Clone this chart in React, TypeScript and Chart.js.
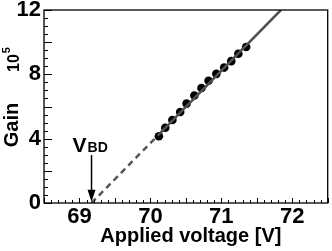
import React, { useEffect, useRef } from "react";
import { Chart, registerables } from "chart.js";

Chart.register(...registerables);

// ---- data ----
const voltage = [70.12, 70.21, 70.31, 70.42, 70.51, 70.62, 70.72, 70.82, 70.93, 71.04, 71.14, 71.24, 71.35];
const gain = [4.15, 4.68, 5.16, 5.66, 6.18, 6.68, 7.15, 7.6, 8.03, 8.42, 8.82, 9.28, 9.7];
const breakdownVoltage = 69.17;
const fitDashedX = [69.17, 70.12];
const fitDashedY = [0, 4.27];
const fitSolidX = [70.12, 71.84];
const fitSolidY = [4.27, 12.0];
const xTickValues = [69, 70, 71, 72];
const yTickValues = [0, 4, 8, 12];
const xMinorStep = 0.1;
const yMinorStep = 0.5;

const FONT = "'Liberation Sans', Arial, Helvetica, sans-serif";

const decorPlugin = {
  id: "decor",
  afterDatasetsDraw(chart: any) {
    const { ctx, chartArea } = chart;
    const xs = chart.scales.x;
    const ys = chart.scales.y;
    const { left, right, top, bottom } = chartArea;
    ctx.save();
    // frame
    ctx.strokeStyle = "#000";
    ctx.lineWidth = 1.3;
    ctx.strokeRect(left, top, right - left, bottom - top);

    // inward ticks x
    ctx.lineWidth = 1;
    const nx = Math.round((xs.max - xs.min) / xMinorStep);
    for (let i = 0; i <= nx; i++) {
      const v = xs.min + i * xMinorStep;
      const px = Math.round(xs.getPixelForValue(v)) + 0.5;
      const isMajor = Math.abs(v * 2 - Math.round(v * 2)) < 1e-6;
      const len = isMajor ? 5 : 3;
      ctx.beginPath();
      ctx.moveTo(px, bottom);
      ctx.lineTo(px, bottom - len);
      ctx.stroke();
    }
    // inward ticks y
    const ny = Math.round((ys.max - ys.min) / yMinorStep);
    for (let i = 0; i <= ny; i++) {
      const v = ys.min + i * yMinorStep;
      const py = Math.round(ys.getPixelForValue(v)) + 0.5;
      const isMajor = Math.abs(v / 2 - Math.round(v / 2)) < 1e-6;
      const len = isMajor ? 8 : 4;
      ctx.beginPath();
      ctx.moveTo(left, py);
      ctx.lineTo(left + len, py);
      ctx.stroke();
    }

    // arrow at breakdown voltage
    const ax = xs.getPixelForValue(breakdownVoltage);
    const aTop = ys.getPixelForValue(2.98);
    const aTip = ys.getPixelForValue(0.08);
    ctx.lineWidth = 1.5;
    ctx.beginPath();
    ctx.moveTo(ax, aTop);
    ctx.lineTo(ax, aTip - 8);
    ctx.stroke();
    ctx.fillStyle = "#000";
    ctx.beginPath();
    ctx.moveTo(ax, aTip);
    ctx.lineTo(ax - 4, aTip - 12);
    ctx.lineTo(ax + 4, aTip - 12);
    ctx.closePath();
    ctx.fill();

    // V_BD label
    ctx.textAlign = "left";
    ctx.textBaseline = "alphabetic";
    ctx.font = `bold 21px ${FONT}`;
    const vx = ax - 19;
    const vy = ys.getPixelForValue(3.17);
    ctx.fillText("V", vx, vy);
    const vw = ctx.measureText("V").width;
    ctx.font = `bold 14px ${FONT}`;
    ctx.fillText("BD", vx + vw + 1, vy);

    // y title "Gain"
    ctx.save();
    ctx.translate(17.5, 125);
    ctx.rotate(-Math.PI / 2);
    ctx.textAlign = "center";
    ctx.font = `bold 20px ${FONT}`;
    ctx.fillText("Gain", 0, 0);
    ctx.restore();

    // 10^5
    ctx.save();
    ctx.translate(19, 72);
    ctx.rotate(-Math.PI / 2);
    ctx.textAlign = "left";
    ctx.font = `bold 16px ${FONT}`;
    ctx.fillText("10", 0, 0);
    const tw = ctx.measureText("10").width;
    ctx.font = `bold 11px ${FONT}`;
    ctx.fillText("5", tw + 1, -9);
    ctx.restore();

    // x title
    ctx.textAlign = "center";
    ctx.font = `bold 20px ${FONT}`;
    ctx.fillText("Applied voltage [V]", (left + right) / 2 + 5, 242);

    ctx.restore();
  },
};

export default function App() {
  const ref = useRef<HTMLCanvasElement | null>(null);
  useEffect(() => {
    document.body.style.margin = "0";
    const canvas = ref.current;
    if (!canvas) return;
    const toPts = (xa: number[], ya: number[]) => xa.map((x, i) => ({ x, y: ya[i] }));
    const chart = new Chart(canvas, {
      type: "scatter",
      data: {
        datasets: [
          {
            label: "fit dashed",
            data: toPts(fitDashedX, fitDashedY),
            showLine: true,
            borderColor: "#555555",
            borderWidth: 2.5,
            borderDash: [6, 4.5],
            pointRadius: 0,
            order: 0,
          },
          {
            label: "fit",
            data: toPts(fitSolidX, fitSolidY),
            showLine: true,
            borderColor: "#505050",
            borderWidth: 2.5,
            pointRadius: 0,
            order: 0,
          },
          {
            label: "gain",
            data: toPts(voltage, gain),
            showLine: false,
            pointRadius: 4.3,
            pointBackgroundColor: "#000",
            pointBorderWidth: 0,
            borderColor: "#000",
            order: 1,
          },
        ],
      },
      options: {
        animation: false,
        responsive: false,
        events: [],
        layout: { padding: { top: 10, right: 4, left: 0, bottom: 0 } },
        plugins: { legend: { display: false }, tooltip: { enabled: false } },
        scales: {
          x: {
            type: "linear",
            min: 68.5,
            max: 72.5,
            grid: { display: false, drawTicks: false },
            border: { display: false },
            ticks: {
              color: "#000",
              padding: 1,
              font: { family: FONT, size: 22, weight: "bold" },
              maxRotation: 0,
            },
            afterBuildTicks: (axis: any) => {
              axis.ticks = xTickValues.map((value) => ({ value }));
            },
            afterFit: (axis: any) => {
              axis.height = 48;
              axis.paddingLeft = 0;
              axis.paddingRight = 0;
            },
          },
          y: {
            type: "linear",
            min: 0,
            max: 12,
            grid: { display: false, drawTicks: false },
            border: { display: false },
            ticks: {
              color: "#000",
              padding: 3,
              font: { family: FONT, size: 22, weight: "bold" },
            },
            afterBuildTicks: (axis: any) => {
              axis.ticks = yTickValues.map((value) => ({ value }));
            },
            afterFit: (axis: any) => {
              axis.width = 44;
              axis.paddingTop = 0;
              axis.paddingBottom = 0;
            },
          },
        },
      },
      plugins: [decorPlugin],
    } as any);
    return () => chart.destroy();
  }, []);
  return <canvas ref={ref} width={332} height={251} style={{ display: "block" }} />;
}
